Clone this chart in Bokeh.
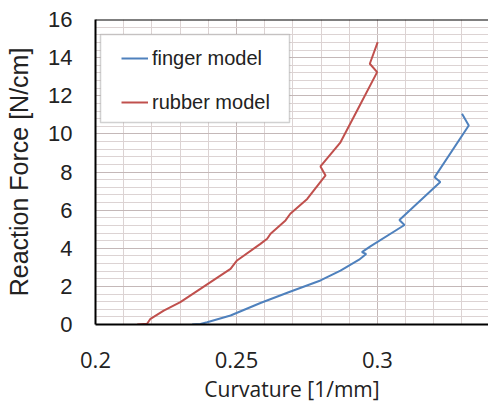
from bokeh.plotting import figure
from bokeh.models import (SingleIntervalTicker, Span, Legend, LegendItem, Range1d,
                          BoxAnnotation)
from bokeh.embed import file_html
from bokeh.resources import INLINE

# Data
finger_x = [0.2343, 0.2372, 0.2396, 0.2479, 0.2585, 0.2685, 0.2798, 0.2869, 0.2935,
            0.2960, 0.2945, 0.2975, 0.3096, 0.3078, 0.3223, 0.3203, 0.3324, 0.3300]
finger_y = [0.00, 0.03, 0.12, 0.47, 1.13, 1.69, 2.31, 2.83, 3.40,
            3.70, 3.80, 4.10, 5.22, 5.48, 7.47, 7.73, 10.44, 11.05]

rubber_x = [0.2148, 0.2183, 0.2195, 0.2242, 0.2301, 0.2372, 0.2408, 0.2479, 0.2502,
            0.2585, 0.2609, 0.2621, 0.2674, 0.2691, 0.2751, 0.2816, 0.2798, 0.2869,
            0.2928, 0.2999, 0.2973, 0.3001]
rubber_y = [0.00, 0.04, 0.30, 0.73, 1.17, 1.87, 2.22, 2.92, 3.36,
            4.23, 4.50, 4.76, 5.46, 5.81, 6.59, 7.82, 8.29, 9.56,
            11.23, 13.24, 13.68, 14.81]

series_names = ["finger model", "rubber model"]
series_colors = ["#4F81BD", "#C0504D"]
x_title = "Curvature [1/mm]"
y_title = "Reaction Force [N/cm]"

x_start, x_end = 0.2, 0.3394
y_start, y_end = 0, 16

p = figure(width=488, height=408, output_backend="svg", toolbar_location=None,
           x_range=Range1d(x_start, x_end), y_range=Range1d(y_start, y_end),
           min_border_left=95, min_border_right=0, min_border_top=19, min_border_bottom=84)
p.outline_line_color = None
p.background_fill_color = "white"
p.border_fill_color = "white"

# axes
p.xaxis.ticker = SingleIntervalTicker(interval=0.05, num_minor_ticks=5)
p.yaxis.ticker = SingleIntervalTicker(interval=2, num_minor_ticks=5)
for ax in (p.xaxis[0], p.yaxis[0]):
    ax.axis_line_color = "black"
    ax.axis_line_width = 2
    ax.major_tick_in = 0
    ax.major_tick_out = 0
    ax.minor_tick_in = 0
    ax.minor_tick_out = 0
    ax.major_label_text_color = "#222222"
    ax.axis_label_text_color = "#222222"
    ax.axis_label_text_font_style = "normal"

p.xaxis.axis_label = x_title
p.xaxis.major_label_text_font = "Open Sans"
p.xaxis.major_label_text_font_size = "22px"
p.xaxis.axis_label_text_font = "Open Sans"
p.xaxis.axis_label_text_font_size = "21px"
p.xaxis.major_label_standoff = 27
p.xaxis.axis_label_standoff = 4

p.yaxis.axis_label = y_title
p.yaxis.major_label_text_font = "Liberation Sans"
p.yaxis.major_label_text_font_size = "22px"
p.yaxis.major_label_standoff = 23
p.yaxis.axis_label_text_font = "Liberation Sans"
p.yaxis.axis_label_text_font_size = "25px"
p.yaxis.axis_label_standoff = 12

# grids
for g in (p.xgrid[0], p.ygrid[0]):
    g.grid_line_color = "#c4b8b8"
    g.grid_line_width = 1
    g.minor_grid_line_color = "#dcd3d3"
    g.minor_grid_line_width = 1

# top border
p.add_layout(Span(location=y_end, dimension="width", line_color="black", line_width=2))

r1 = p.line(finger_x, finger_y, line_color=series_colors[0], line_width=2)
r2 = p.line(rubber_x, rubber_y, line_color=series_colors[1], line_width=2)

# legend frame
p.add_layout(BoxAnnotation(left=100, right=289, top=34, bottom=122,
                           left_units="canvas", right_units="canvas",
                           top_units="canvas", bottom_units="canvas",
                           fill_color="white", fill_alpha=1,
                           line_color="#666666", line_width=1.5))

legend = Legend(items=[LegendItem(label=series_names[0], renderers=[r1]),
                       LegendItem(label=series_names[1], renderers=[r2])],
                location=(26, 210), margin=0, padding=0, spacing=20,
                glyph_width=27, glyph_height=24, label_height=24,
                label_standoff=4,
                label_text_font="Liberation Sans", label_text_font_size="20px",
                label_text_color="#222222",
                border_line_color=None, background_fill_alpha=0)
p.add_layout(legend)

open("out.html", "w").write(file_html(p, INLINE))
